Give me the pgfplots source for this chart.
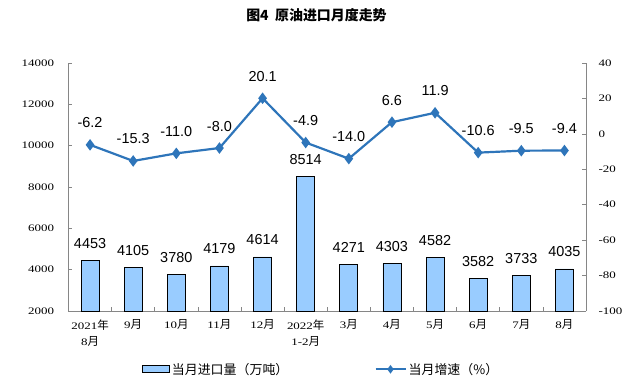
\documentclass[border=0pt]{standalone}
\usepackage{pgfplots}
\pgfplotsset{compat=1.18}
\usepackage{fontspec}
\setmainfont{Liberation Serif}
\newfontfamily\sans{Liberation Sans}
\newfontfamily\tickfont[FakeStretch=1.3]{Liberation Serif}
\newfontfamily\cjk{Noto Sans CJK SC}
\newcommand\cn[1]{{\cjk\fontsize{11.5}{12}\selectfont #1}}
\definecolor{barblue}{RGB}{153,204,255}
\definecolor{lineblue}{RGB}{46,117,186}
\definecolor{axgray}{RGB}{134,134,134}
\pgfplotsset{/pgf/number format/assume math mode=true, /pgf/number format/set thousands separator={},
  lineleg/.style={legend image code/.code={\draw[##1, mark size=2.5bp, mark repeat=2, mark phase=2] plot coordinates {(0bp,0bp) (15bp,0bp) (30bp,0bp)};}},
  barleg/.style={legend image code/.code={\draw[fill=barblue, draw=black, line width=1bp] (0bp,-3.5bp) rectangle (27bp,3.5bp);}}}
\pgfplotstableread{
x v
0 4453
1 4105
2 3780
3 4179
4 4614
5 8514
6 4271
7 4303
8 4582
9 3582
10 3733
11 4035
}\bars
\pgfplotstableread{
x g lab
0 -6.2 -6.2
1 -15.3 -15.3
2 -11.0 -11.0
3 -8.0 -8.0
4 20.1 20.1
5 -4.9 -4.9
6 -14.0 -14.0
7 6.6 6.6
8 11.9 11.9
9 -10.6 -10.6
10 -9.5 -9.5
11 -9.4 -9.4
}\growth
\begin{document}
\begin{tikzpicture}
\begin{axis}[
  at={(0,0)}, anchor=south west, scale only axis,
  width=517.5bp, height=248bp,
  xmin=-0.5, xmax=11.5, ymin=2000, ymax=14000,
  scaled y ticks=false,
  axis x line*=bottom, axis y line*=left,
  axis line style={axgray, line width=0.8bp},
  tick style={axgray, line width=0.7bp},
  major tick length=4bp, minor tick length=4bp,
  ytick={2000,4000,...,14000},
  xtick={0,...,11},
  xticklabels={{2021\cn{年}\\8\cn{月}},9\cn{月},10\cn{月},11\cn{月},12\cn{月},{2022\cn{年}\\1-2\cn{月}},3\cn{月},4\cn{月},5\cn{月},6\cn{月},7\cn{月},8\cn{月}},
  major x tick style={draw=none},
  minor xtick={0.5,1.5,...,10.5},
  y tick label style={font=\tickfont\fontsize{10}{12}\selectfont, xshift=-11bp},
  x tick label style={font=\tickfont\fontsize{10}{16}\selectfont, align=center, yshift=-5bp},
]
\addplot[ybar, bar width=18bp, fill=barblue, draw=black, line width=0.8bp,
  nodes near coords,
  nodes near coords style={font=\sans\fontsize{14.5}{15}\selectfont, anchor=center, yshift=17bp}]
  table[x=x, y=v] {\bars};
\end{axis}
\begin{axis}[
  at={(0,0)}, anchor=south west, scale only axis,
  width=517.5bp, height=248bp,
  xmin=-0.5, xmax=11.5, ymin=-100, ymax=40,
  axis y line*=right, hide x axis,
  axis line style={axgray, line width=0.8bp},
  tick style={axgray, line width=0.7bp},
  major tick length=4bp,
  ytick={-100,-80,...,40},
  y tick label style={font=\tickfont\fontsize{10}{12}\selectfont, xshift=9bp},
  legend columns=2,
  legend style={at={(0.488,-0.235)}, anchor=center, draw=none, fill=none,
    font=\cjk\fontsize{13}{14}\selectfont,
    /tikz/every odd column/.append style={column sep=0bp},
    /tikz/every even column/.append style={column sep=84bp}},
]
\addlegendimage{barleg}
\addlegendentry{当月进口量（万吨）}
\addplot[lineblue, line width=2.2bp, mark=diamond*, mark size=4bp,
  mark options={fill=lineblue},
  nodes near coords, point meta=explicit symbolic,
  nodes near coords style={font=\sans\fontsize{14.5}{15}\selectfont, text=black, anchor=center, yshift=22bp},
  lineleg]
  table[x=x, y=g, meta=lab] {\growth};
\addlegendentry{当月增速（\%）}
\end{axis}
\node[font=\cjk\bfseries\fontsize{14}{15}\selectfont] at (248bp,296bp) {图4\ \ 原油进口月度走势};
\path[use as bounding box] (-68.5bp,-72bp) rectangle (564.5bp,311bp);
\end{tikzpicture}
\end{document}
